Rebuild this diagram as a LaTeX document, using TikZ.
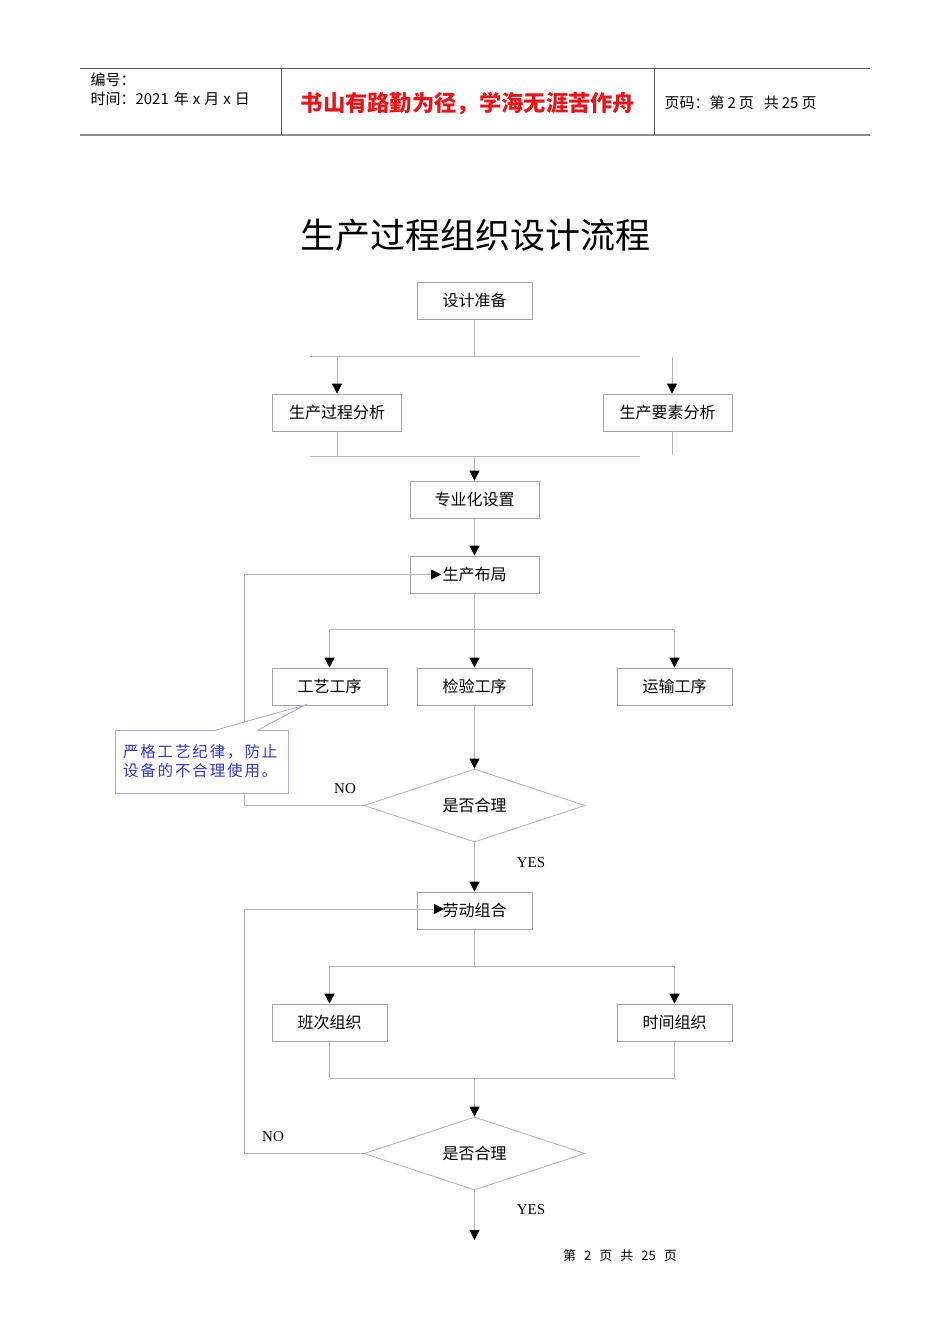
\documentclass[tikz,border=0pt]{standalone}
\usepackage{fontspec}
\setmainfont{Liberation Serif}
\newfontfamily\cjk{Noto Sans CJK SC}
\newfontfamily\cjknote{Noto Sans CJK SC}[LetterSpace=12]
\usetikzlibrary{arrows.meta,positioning,shapes.geometric,calc}
\definecolor{linegray}{HTML}{B4B4B4}
\definecolor{boxgray}{HTML}{A4A4A4}
\definecolor{noteblue}{HTML}{3333CC}
\definecolor{noteedge}{HTML}{A8A8E0}
\definecolor{mottored}{HTML}{E8141A}

\begin{document}
\begin{tikzpicture}[
  x=1pt, y=-1pt,
  box/.style={rectangle,draw=boxgray,fill=white,line width=0.8pt,
              minimum width=115pt,minimum height=37pt,inner sep=0pt,
              font=\cjk\fontsize{16}{16}\selectfont},
  wide/.style={box,minimum width=129pt},
  dec/.style={diamond,aspect=3,draw=linegray,fill=white,line width=0.8pt,
              minimum width=221pt,minimum height=73pt,inner sep=0pt,
              font=\cjk\fontsize{16}{16}\selectfont},
  note/.style={rectangle,draw=noteedge,fill=white,line width=0.8pt,
               minimum width=173pt,minimum height=63pt,inner sep=0pt,
               text width=157pt,align=left,text=noteblue,
               font=\cjknote\fontsize{15.5}{19}\selectfont},
  lbl/.style={font=\fontsize{15}{15}\selectfont},
  link/.style={draw=linegray,line width=0.8pt},
  arr/.style={link,-{Triangle[length=10pt,width=10pt,color=black]}},
  hdr/.style={draw=black!65,line width=0.9pt}
]
  \useasboundingbox[fill=white] (0,0) rectangle (950,1344);

  % page header
  \draw[hdr] (80,68) -- (870,68);
  \draw[hdr,draw=black!45,line width=2pt] (80,135) -- (870,135);
  \draw[hdr] (281,68) -- (281,135);
  \draw[hdr] (654,68) -- (654,135);
  \node[anchor=west,font=\cjk\fontsize{15}{15}\selectfont] (code) at (87,80) {编号：};
  \node[anchor=west,font=\cjk\fontsize{15}{15}\selectfont] (date) at (87,99)
    {时间：2021\hspace{5pt}年\hspace{4pt}x\hspace{4pt}月\hspace{4pt}x\hspace{4pt}日};
  \node[font=\cjk\bfseries\fontsize{22.3}{22.3}\selectfont,text=mottored] (motto) at (468,104)
    {书山有路勤为径，学海无涯苦作舟};
  \node[anchor=west,font=\cjk\fontsize{15}{15}\selectfont] (pageno) at (661,103)
    {页码：第\hspace{3pt}2\hspace{3pt}页\hspace{10pt}共\hspace{3pt}25\hspace{3pt}页};

  \node[font=\cjk\fontsize{35}{35}\selectfont] (title) at (475,235) {生产过程组织设计流程};

  \node[box]  (prep)   at (474.5,300.5)  {设计准备};
  \node[wide] (proc)   at (337,412.5)    {生产过程分析};
  \node[wide] (elem)   at (667.5,412.5)  {生产要素分析};
  \node[wide] (spec)   at (474.5,499.5)  {专业化设置};
  \node[wide] (layout) at (474.5,574.5)  {生产布局};
  \node[box]  (craft)  at (329.5,686.5)  {工艺工序};
  \node[box]  (check)  at (474.5,686.5)  {检验工序};
  \node[box]  (trans)  at (674.5,686.5)  {运输工序};
  \node[dec]  (dec1)   at (474.5,805.5)  {是否合理};
  \node[box]  (labor)  at (474.5,910.5)  {劳动组合};
  \node[box]  (shift)  at (329.5,1022.5) {班次组织};
  \node[box]  (time)   at (674.5,1022.5) {时间组织};
  \node[dec]  (dec2)   at (474.5,1153.5) {是否合理};

  \coordinate (s1l) at (310,356);
  \coordinate (s1r) at (640,356);
  \coordinate (s1t) at (672,357);
  \coordinate (m1l) at (310,456);
  \coordinate (m1r) at (640,456);
  \coordinate (e1)  at (672,455);
  \coordinate (s2l) at (329.5,629);
  \coordinate (s2r) at (674.5,629);
  \coordinate (s3l) at (329.5,966);
  \coordinate (s3r) at (674.5,966);
  \coordinate (m3l) at (329.5,1078);
  \coordinate (m3r) at (674.5,1078);
  \coordinate (back1) at (244,805.5);
  \coordinate (in1)   at (441,574.5);
  \coordinate (back2) at (244,1153.5);
  \coordinate (in2)   at (444,909);
  \coordinate (out)   at (474.5,1240);

  \draw[link] (prep) -- (prep |- s1l);
  \draw[link] (s1l) -- (s1r);
  \draw[arr] (proc |- s1l) -- (proc);
  \draw[arr] (s1t) -- (s1t |- elem.north);
  \draw[link] (proc) -- (proc |- m1l);
  \draw[link] (s1t |- elem.south) -- (e1);
  \draw[link] (m1l) -- (m1r);
  \draw[arr] (spec |- m1l) -- (spec);
  \draw[arr] (spec) -- (layout);

  \draw[arr] (layout) -- (check);
  \draw[link] (s2l) -- (s2r);
  \draw[arr] (s2l) -- (craft);
  \draw[arr] (s2r) -- (trans);
  \draw[arr] (check) -- (dec1);
  \draw[arr] (dec1.west) -- (back1) |- (in1);
  \draw[arr] (dec1) -- (labor);

  \draw[link] (labor) -- (labor |- s3l);
  \draw[link] (s3l) -- (s3r);
  \draw[arr] (s3l) -- (shift);
  \draw[arr] (s3r) -- (time);
  \draw[link] (shift) -- (m3l) -- (m3r) -- (time);
  \draw[arr] (labor |- m3l) -- (dec2);
  \draw[arr] (dec2.west) -- (back2) |- (in2);
  \draw[arr] (dec2) -- (out);

  \node[lbl] (no1)  at (345,789)  {NO};
  \node[lbl] (yes1) at (531,863)  {YES};
  \node[lbl] (no2)  at (273,1137) {NO};
  \node[lbl] (yes2) at (531,1210) {YES};

  % callout
  \node[note] (hint) at (201.5,761.5) {严格工艺纪律，防止\\设备的不合理使用。};
  \fill[white] (216.5,729) -- (305,705) -- (257.5,729) -- (257.5,731) -- (216.5,731) -- cycle;
  \draw[draw=noteedge,line width=0.8pt] (216,730) -- (305,705) -- (258,730);

  \node[font=\cjk\fontsize{13}{13}\selectfont] (foot) at (620,1256)
    {第\hspace{8pt}2\hspace{8pt}页\hspace{8pt}共\hspace{8pt}25\hspace{8pt}页};
\end{tikzpicture}
\end{document}
